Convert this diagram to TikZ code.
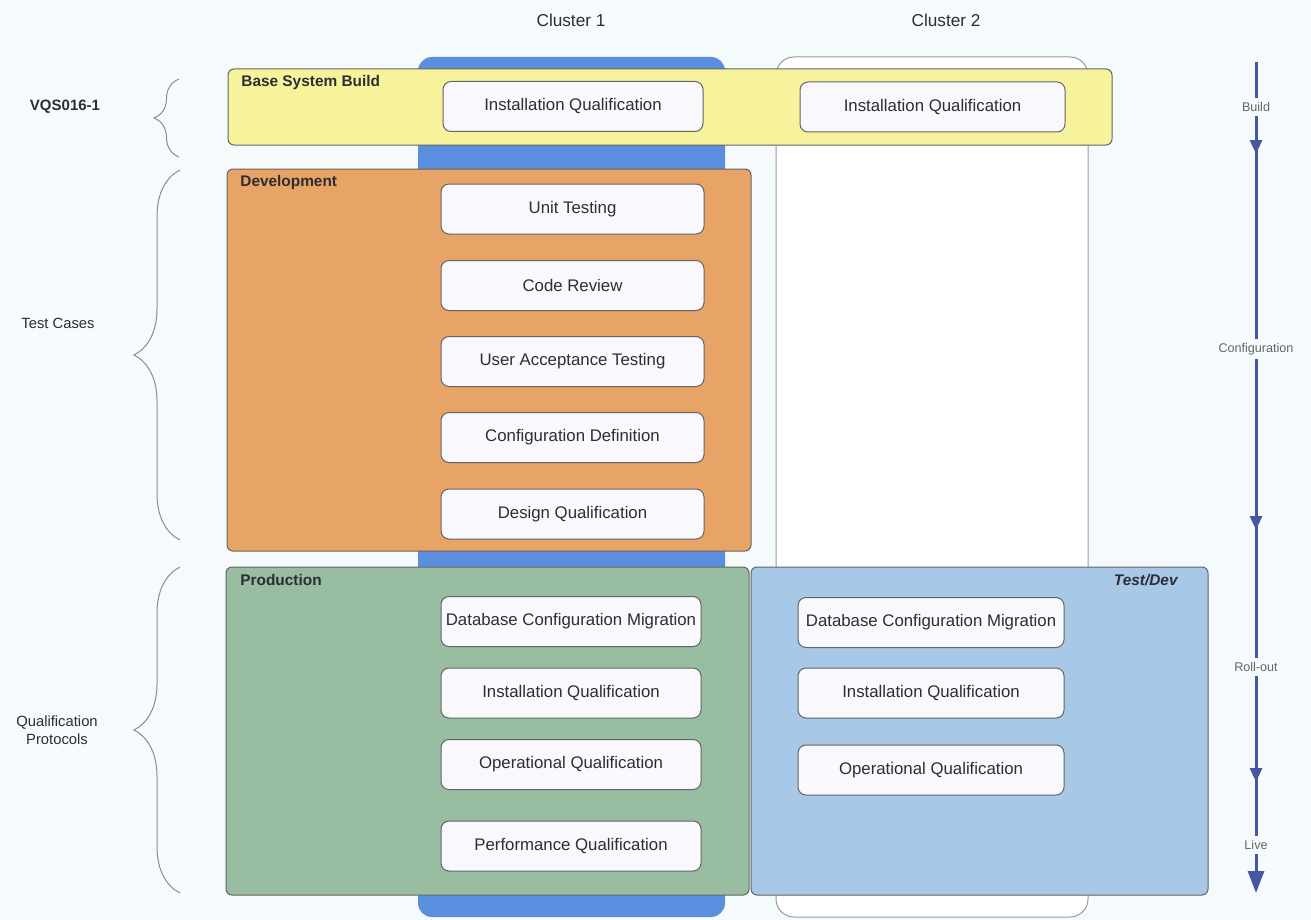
\documentclass[tikz,border=0pt]{standalone}
\usepackage{fontspec}
\setmainfont{Liberation Sans}
\usetikzlibrary{decorations.pathreplacing,arrows.meta}
\definecolor{bg}{RGB}{245,250,252}
\definecolor{colblue}{RGB}{92,142,224}
\definecolor{yel}{RGB}{246,243,156}
\definecolor{ora}{RGB}{231,164,102}
\definecolor{grn}{RGB}{152,189,160}
\definecolor{tdblue}{RGB}{168,200,232}
\definecolor{cardfill}{RGB}{248,248,253}
\definecolor{txt}{RGB}{45,45,50}
\definecolor{arrblue}{RGB}{72,86,160}
\definecolor{edge}{RGB}{100,100,100}
\begin{document}
\begin{tikzpicture}[x=0.5pt,y=-0.5pt,
  panel/.style={draw=edge, line width=0.5pt, rounded corners=3pt},
  card/.style={draw=edge, fill=cardfill, rounded corners=4pt, line width=0.5pt,
    minimum height=25pt, inner sep=0pt, text=txt, font=\fontsize{8.4}{10}\selectfont},
  ptitle/.style={anchor=west, text=txt, font=\bfseries\fontsize{7.7}{9}\selectfont, inner sep=0pt},
  clabel/.style={text=txt, font=\fontsize{8.6}{10}\selectfont, inner sep=0pt},
  llabel/.style={text=txt, font=\fontsize{7.4}{9}\selectfont, align=center, inner sep=0pt},
  rlabel/.style={text=black!60, font=\fontsize{6.3}{8}\selectfont, fill=bg, inner xsep=1pt, inner ysep=2pt},
  bracestyle/.style={draw=black!45, line width=0.5pt, decorate,
    decoration={brace, amplitude=23pt}},
  arr/.style={draw=arrblue, line width=1.5pt},
  midtip/.style={-{Triangle[length=7pt,width=6pt]}, draw=arrblue, line width=1.5pt}
]
% background / bounding box
\fill[bg] (0,0) rectangle (1311,920);
\useasboundingbox (0,0) rectangle (1311,920);

% column headers
\node[clabel] (cl1) at (571,20) {Cluster 1};
\node[clabel] (cl2) at (946,20) {Cluster 2};

% cluster columns
\path[fill=colblue, rounded corners=7pt] (418,57) rectangle (725,917);
\path[fill=white, draw=black!40, line width=0.5pt, rounded corners=9pt] (776,57) rectangle (1088,917);

% Base System Build
\path[panel, fill=yel] (228,69) rectangle (1112,145);
\node[ptitle] (tbase) at (241,83) {Base System Build};
\node[card, minimum width=130pt] (iq1) at (573,106.5) {Installation Qualification};
\node[card, minimum width=132.5pt] (iq2) at (932.5,107) {Installation Qualification};

% Development
\path[panel, fill=ora] (227,169) rectangle (751,551);
\node[ptitle] (tdev) at (240,183) {Development};
\node[card, minimum width=131.5pt] (ut) at (572.5,209) {Unit Testing};
\node[card, minimum width=131.5pt] (cr) at (572.5,285.5) {Code Review};
\node[card, minimum width=131.5pt] (uat) at (572.5,361.5) {User Acceptance Testing};
\node[card, minimum width=131.5pt] (cd) at (572.5,437.5) {Configuration Definition};
\node[card, minimum width=131.5pt] (dq) at (572.5,514) {Design Qualification};

% Production
\path[panel, fill=grn] (226,567) rectangle (749,895);
\node[ptitle] (tprod) at (240,580) {Production};
\node[card, minimum width=130pt] (pdcm) at (571,621.5) {Database Configuration Migration};
\node[card, minimum width=130pt] (piq) at (571,693) {Installation Qualification};
\node[card, minimum width=130pt] (poq) at (571,764.5) {Operational Qualification};
\node[card, minimum width=130pt] (ppq) at (571,846) {Performance Qualification};

% Test/Dev
\path[panel, fill=tdblue] (751,567) rectangle (1208,895);
\node[ptitle, anchor=east, font=\bfseries\itshape\fontsize{7.7}{9}\selectfont] (ttd) at (1178,580) {Test/Dev};
\node[card, minimum width=133pt] (tdcm) at (931,622.5) {Database Configuration Migration};
\node[card, minimum width=133pt] (tiq) at (931,693) {Installation Qualification};
\node[card, minimum width=133pt] (toq) at (931,770) {Operational Qualification};

% left braces and labels
\draw[bracestyle, decoration={brace, amplitude=12.5pt}] (179,157) -- (179,79);
\draw[bracestyle] (180,540) -- (180,170);
\draw[bracestyle] (180,893) -- (180,567);
\node[llabel, font=\bfseries\fontsize{7.5}{9}\selectfont] (lv) at (65,107) {VQS016-1};
\node[llabel] (lt) at (58,323) {Test Cases};
\node[llabel] (lq) at (57,730) {Qualification\\Protocols};

% right timeline arrow
\coordinate (atop) at (1256,62);
\coordinate (abot) at (1256,893);
\draw[arr, -{Triangle[length=11pt,width=8pt]}] (atop) -- (abot);
\draw[midtip] (1256,132) -- (1256,154);
\draw[midtip] (1256,508) -- (1256,530);
\draw[midtip] (1256,760) -- (1256,782);
\node[rlabel] (rb) at (1256,107) {Build};
\node[rlabel] (rc) at (1256,349) {Configuration};
\node[rlabel] (rr) at (1256,667) {Roll-out};
\node[rlabel] (rl) at (1256,845) {Live};
\end{tikzpicture}
\end{document}
